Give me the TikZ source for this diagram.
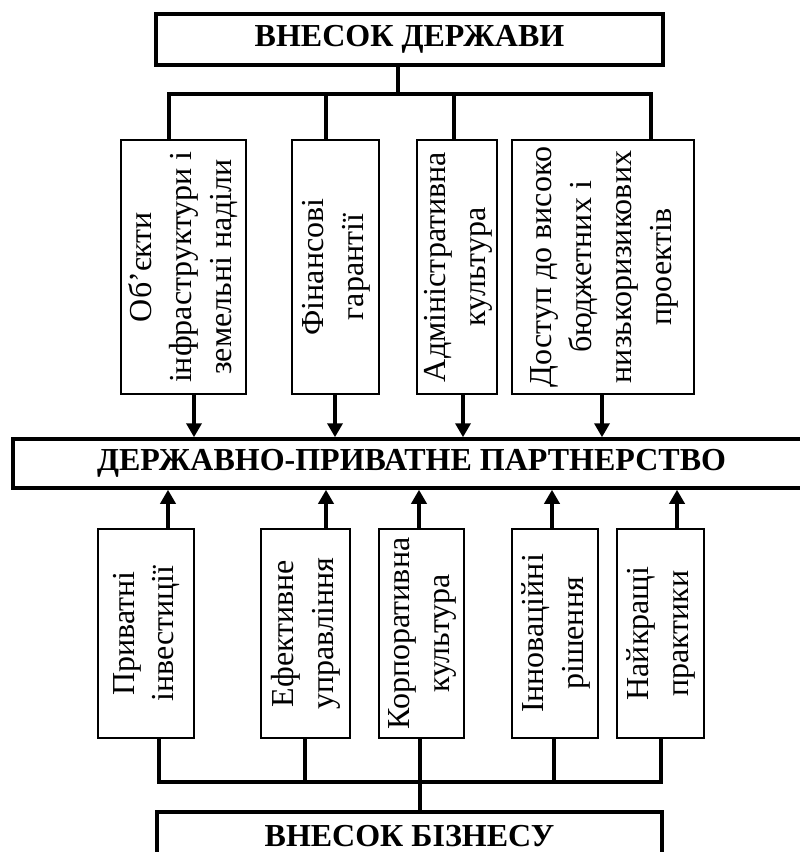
\documentclass[tikz,border=0pt]{standalone}
\usepackage{fontspec}
\usepackage{graphicx}
\setmainfont{Liberation Serif}
\usetikzlibrary{arrows.meta}

\newcommand{\vtext}[1]{\rotatebox{90}{\begin{tabular}{@{}c@{}}#1\end{tabular}}}

\begin{document}
\begin{tikzpicture}[x=1pt, y=-1pt,
    mainbox/.style={draw, line width=3.5pt, inner sep=0pt, font=\fontsize{32}{36}\selectfont\bfseries},
    itembox/.style={draw, line width=2pt, inner sep=0pt, font=\fontsize{32}{40}\selectfont},
    link/.style={line width=3.5pt},
    arr/.style={line width=3.5pt, -{Triangle[length=14pt, width=15pt]}}]
    \useasboundingbox (0,0) rectangle (800,852);
    \clip (0,0) rectangle (800,852);

    % Main blocks
    \node[mainbox, minimum width=507pt, minimum height=51pt] (state) at (409.5,39.5) {ВНЕСОК ДЕРЖАВИ};
    \node[mainbox, minimum width=797pt, minimum height=49pt] (ppp) at (411.5,463.5) {ДЕРЖАВНО-ПРИВАТНЕ ПАРТНЕРСТВО};
    \node[mainbox, minimum width=505pt, minimum height=48pt] (business) at (409.5,836) {ВНЕСОК БІЗНЕСУ};

    % State contribution
    \node[itembox, minimum width=125pt, minimum height=254pt] (s1) at (183.5,267) {\vtext{Об’єкти\\ інфраструктури і\\ земельні наділи}};
    \node[itembox, minimum width=87pt, minimum height=254pt] (s2) at (335.5,267) {\vtext{Фінансові\\ гарантії}};
    \node[itembox, minimum width=76pt, minimum height=254pt] (s3) at (457,267) {\vtext{Адміністративна\\ культура}};
    \node[itembox, minimum width=182pt, minimum height=254pt] (s4) at (603,267) {\vtext{Доступ до високо\\ бюджетних і\\ низькоризикових\\ проектів}};

    % Business contribution
    \node[itembox, minimum width=96pt, minimum height=209pt] (b1) at (146,633.5) {\vtext{Приватні\\ інвестиції}};
    \node[itembox, minimum width=89pt, minimum height=209pt] (b2) at (305.5,633.5) {\vtext{Ефективне\\ управління}};
    \node[itembox, minimum width=85pt, minimum height=209pt] (b3) at (421.5,633.5) {\vtext{Корпоративна\\ культура}};
    \node[itembox, minimum width=86pt, minimum height=209pt] (b4) at (555,633.5) {\vtext{Інноваційні\\ рішення}};
    \node[itembox, minimum width=87pt, minimum height=209pt] (b5) at (660.5,633.5) {\vtext{Найкращі\\ практики}};

    % Upper bus
    \coordinate (tj) at (398,94);
    \coordinate (u1) at (169,94);
    \coordinate (u2) at (326,94);
    \coordinate (u3) at (454,94);
    \coordinate (u4) at (651,94);
    \draw[link] (state.south -| tj) -- (tj);
    \draw[link] (u1 |- s1.north) -- (u1) -- (u4) -- (u4 |- s4.north);
    \draw[link] (u2) -- (u2 |- s2.north);
    \draw[link] (u3) -- (u3 |- s3.north);

    % Arrows into the partnership
    \foreach \i/\x in {1/194, 2/335, 3/463, 4/602}
        \draw[arr] (s\i.south -| \x,0) -- (ppp.north -| \x,0);
    \foreach \i/\x in {1/168, 2/326, 3/419, 4/552, 5/677}
        \draw[arr] (b\i.north -| \x,0) -- (ppp.south -| \x,0);

    % Lower bus
    \coordinate (l1) at (159,782);
    \coordinate (l2) at (305,782);
    \coordinate (l3) at (420,782);
    \coordinate (l4) at (554,782);
    \coordinate (l5) at (661,782);
    \draw[link] (b1.south -| l1) -- (l1) -- (l5) -- (b5.south -| l5);
    \foreach \i in {2,3,4}
        \draw[link] (b\i.south -| l\i) -- (l\i);
    \draw[link] (l3) -- (l3 |- business.north);
\end{tikzpicture}
\end{document}
